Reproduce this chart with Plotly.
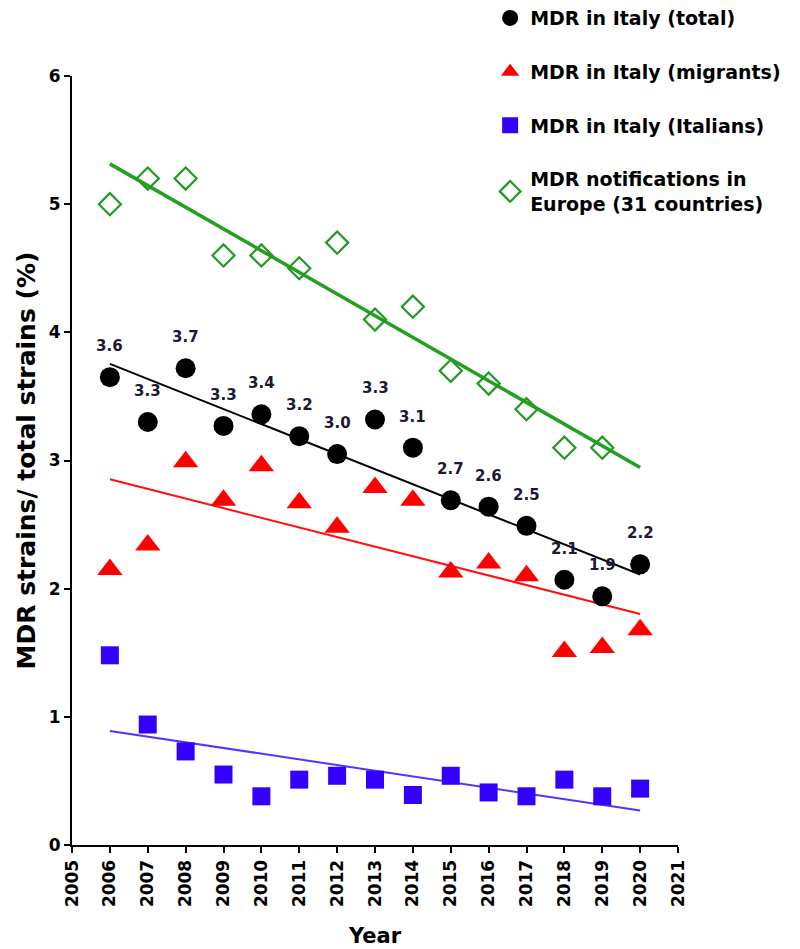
import numpy as np
import plotly.graph_objects as go

years = [2006, 2007, 2008, 2009, 2010, 2011, 2012, 2013, 2014, 2015, 2016, 2017, 2018, 2019, 2020]
total = [3.65, 3.30, 3.72, 3.27, 3.36, 3.19, 3.05, 3.32, 3.10, 2.69, 2.64, 2.49, 2.07, 1.94, 2.19]
total_labels = ["3.6", "3.3", "3.7", "3.3", "3.4", "3.2", "3.0", "3.3", "3.1", "2.7", "2.6", "2.5", "2.1", "1.9", "2.2"]
migrants = [2.15, 2.34, 2.99, 2.69, 2.96, 2.67, 2.48, 2.79, 2.69, 2.13, 2.20, 2.10, 1.51, 1.54, 1.68]
italians = [1.48, 0.94, 0.73, 0.55, 0.38, 0.51, 0.54, 0.51, 0.39, 0.54, 0.41, 0.38, 0.51, 0.38, 0.44]
europe_years = [2006, 2007, 2008, 2009, 2010, 2011, 2012, 2013, 2014, 2015, 2016, 2017, 2018, 2019]
europe = [5.0, 5.2, 5.2, 4.6, 4.6, 4.5, 4.7, 4.1, 4.2, 3.7, 3.6, 3.4, 3.1, 3.1]

x_ticks = list(range(2005, 2022))
y_ticks = [0, 1, 2, 3, 4, 5, 6]

FONT = "DejaVu Sans"

def trend(xs, ys, x_end):
    k, b = np.polyfit(xs, ys, 1)
    xx = [xs[0], x_end]
    return xx, [k * v + b for v in xx]

fig = go.Figure()

series = [
    ("MDR in Italy (total)", years, total, "circle", "#000000", "#000000", 2, 20, 0),
    ("MDR in Italy (migrants)", years, migrants, "triangle-up", "#ff0000", "#ff1010", 2, 22, 0),
    ("MDR in Italy (Italians)", years, italians, "square", "#3300ff", "#5533ff", 2, 18, 0),
    ("MDR notifications in<br>Europe (31 countries)", europe_years, europe, "diamond-open", "#229922", "#22a022", 3.5, 17, 2.2),
]

for i, (name, xs, ys, sym, col, lcol, lw, ms, mlw) in enumerate(series):
    tx, ty = trend(xs, ys, 2020)
    fig.add_trace(go.Scatter(x=tx, y=ty, mode="lines", line=dict(color=lcol, width=lw),
                             showlegend=False, hoverinfo="skip"))

for i, (name, xs, ys, sym, col, lcol, lw, ms, mlw) in enumerate(series):
    marker = dict(symbol=sym, size=ms, color=col)
    if mlw:
        marker["line"] = dict(color=col, width=mlw)
    fig.add_trace(go.Scatter(x=xs, y=ys, mode="markers", name=name, marker=marker,
                             legendgroup="g%d" % i))

for x, y, t in zip(years, total, total_labels):
    fig.add_annotation(x=x, y=y, text=t, showarrow=False, yshift=31,
                       font=dict(family=FONT, size=15, color="#1a1a33", weight="bold"))

axis_common = dict(showline=True, linecolor="black", linewidth=2, ticks="outside",
                   ticklen=6, tickwidth=2, tickcolor="black", showgrid=False, zeroline=False,
                   automargin=False,
                   tickfont=dict(family=FONT, size=17, color="black", weight="bold"))

fig.update_xaxes(range=[2005, 2021], tickmode="array", tickvals=x_ticks,
                 ticktext=[str(v) for v in x_ticks], tickangle=-90,
                 title=dict(text="Year", font=dict(family=FONT, size=21, color="black", weight="bold"),
                            standoff=22),
                 **axis_common)
fig.update_yaxes(range=[0, 6], tickmode="array", tickvals=y_ticks,
                 title=dict(text="MDR strains/ total strains (%)",
                            font=dict(family=FONT, size=25, color="black", weight="bold"),
                            standoff=6),
                 **axis_common)

fig.update_layout(
    width=800, height=949,
    margin=dict(l=64, r=130, t=68, b=112, autoexpand=False),
    plot_bgcolor="white", paper_bgcolor="white",
    legend=dict(x=0.69, y=1.1, xanchor="left", yanchor="top",
                font=dict(family=FONT, size=19, color="black", weight="bold"),
                tracegroupgap=26, itemwidth=30, bgcolor="rgba(0,0,0,0)"),
)

fig.write_html("out.html")
